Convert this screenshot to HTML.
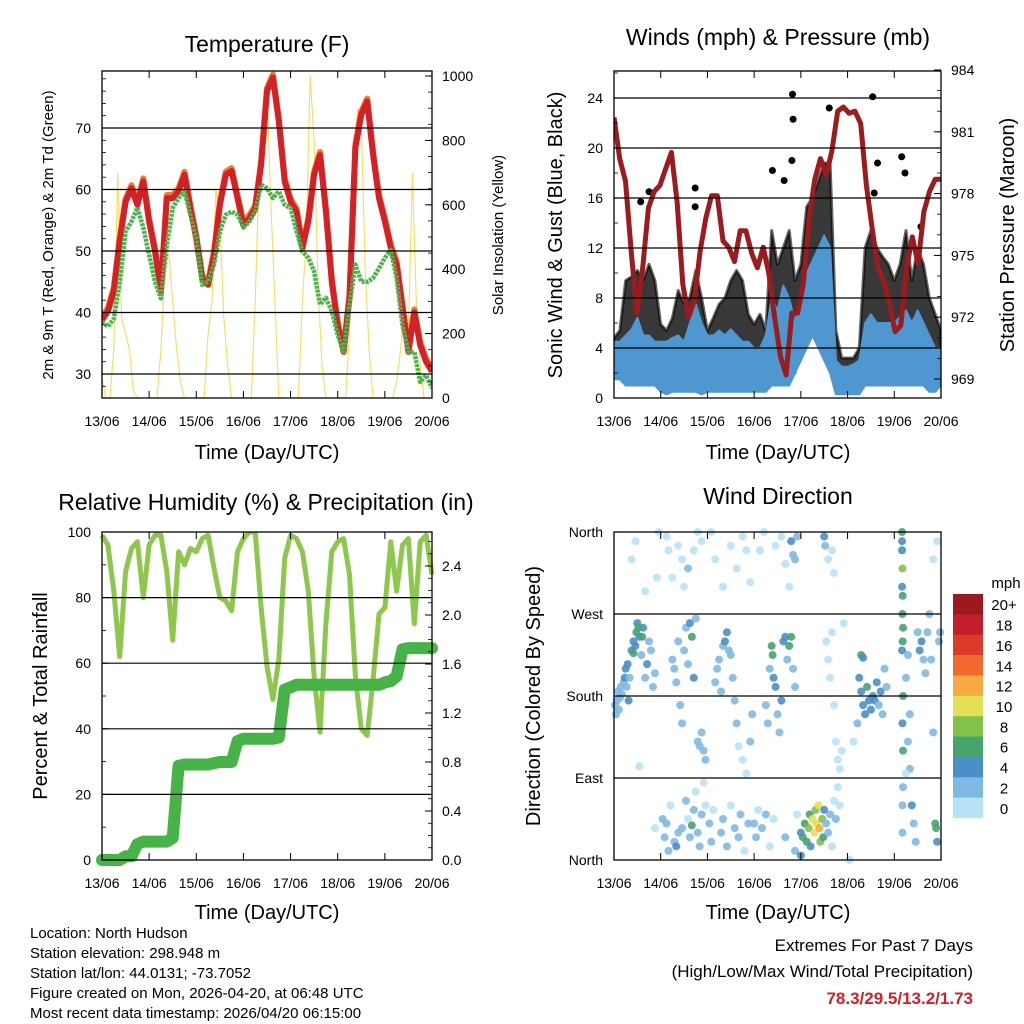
<!DOCTYPE html>
<html><head><meta charset="utf-8"><style>
html,body{margin:0;padding:0;background:#fff;}
svg{display:block;font-family:"Liberation Sans",Arial,sans-serif;}
</style></head><body>
<svg id="fig" width="1024" height="1024" viewBox="0 0 1024 1024" xmlns="http://www.w3.org/2000/svg">
<rect width="1024" height="1024" fill="#fff"/>
<g id="layer"></g>
<text x="267" y="52" font-size="23" text-anchor="middle">Temperature (F)</text>
<text x="778" y="45" font-size="23" text-anchor="middle">Winds (mph) &amp; Pressure (mb)</text>
<text x="266" y="510" font-size="23" text-anchor="middle">Relative Humidity (%) &amp; Precipitation (in)</text>
<text x="778" y="504" font-size="23" text-anchor="middle">Wind Direction</text>
<text x="267" y="459" font-size="20" text-anchor="middle">Time (Day/UTC)</text>
<text x="778" y="459" font-size="20" text-anchor="middle">Time (Day/UTC)</text>
<text x="267" y="919" font-size="20" text-anchor="middle">Time (Day/UTC)</text>
<text x="778" y="919" font-size="20" text-anchor="middle">Time (Day/UTC)</text>
<text transform="translate(53,235) rotate(-90)" font-size="15" text-anchor="middle">2m &amp; 9m T (Red, Orange) &amp; 2m Td (Green)</text>
<text transform="translate(503,235) rotate(-90)" font-size="15" text-anchor="middle">Solar Insolation (Yellow)</text>
<text transform="translate(562,235) rotate(-90)" font-size="20" text-anchor="middle">Sonic Wind &amp; Gust (Blue, Black)</text>
<text transform="translate(1014,235) rotate(-90)" font-size="20" text-anchor="middle">Station Pressure (Maroon)</text>
<text transform="translate(47,696) rotate(-90)" font-size="20" text-anchor="middle">Percent &amp; Total Rainfall</text>
<text transform="translate(540,696) rotate(-90)" font-size="20" text-anchor="middle">Direction (Colored By Speed)</text>
<g font-size="15">
<text x="30" y="938">Location: North Hudson</text>
<text x="30" y="958">Station elevation: 298.948 m</text>
<text x="30" y="978">Station lat/lon: 44.0131; -73.7052</text>
<text x="30" y="998">Figure created on Mon, 2026-04-20, at 06:48 UTC</text>
<text x="30" y="1018">Most recent data timestamp: 2026/04/20 06:15:00</text>
</g>
<g text-anchor="end">
<text x="973" y="951" font-size="17">Extremes For Past 7 Days</text>
<text x="973" y="977" font-size="17">(High/Low/Max Wind/Total Precipitation)</text>
<text x="973" y="1004" font-size="17" font-weight="bold" fill="#d22027">78.3/29.5/13.2/1.73</text>
</g>
</svg>
<script>
const dayLabels = ["13/06","14/06","15/06","16/06","17/06","18/06","19/06","20/06"];
const tempRed = [38.8,40.2,43.5,51.6,58,60.2,57.5,61.3, 54.8,49.9,43.5,58.6,58.6,59.7,62.4,56.9, 52,45.5,44.5,49.4,57.5,62.4,63,58.6, 54.2,55.3,56.9,64,76,78.2,71.1,61.3, 58,56.4,50.5,54.8,62.4,65.6,56.4,45, 37.9,33.6,42.4,66.8,72.2,74.3,65.6,58.6, 54.8,50.5,47.8,40.7,33.6,40,34.7,32,30.4];
const dewGreen = [38.5,37.7,39,45,53.2,54.8,57,53.8, 49.4,45,42.3,51,57,58.6,59.7,55.9, 52,44.5,45,47.8,53.2,55.9,56.4,55.9, 53.8,54.8,56.4,60.8,60.2,58.6,59.7,57.5, 57,53.2,49.9,48.9,46.7,41.3,42.4,40.2, 36.4,33.6,41.3,47.8,45,45,45.6,47.2, 48.9,50.2,45.6,37.9,33.6,33.6,28.7,29.8,27.7];
const solar = [60,0,0,150,700,250,200,150,20,0,0,0, 0,0,0,150,400,450,300,150,50,0,0,0, 0,0,0,200,300,650,550,250,100,0,0,0, 0,0,0,300,700,900,950,600,300,0,0,0, 0,0,0,300,500,1000,800,350,100,0,0,0, 0,0,0,200,700,900,850,400,150,0,0,0, 0,0,0,50,150,300,200,700,300,100,0,0,0];
const pressure = [981.7,979.7,978.6,975.2,972.2,974.4,977.3,978.1,978.4,979.2,980,977.6,973.6,972,972.8,975.2,976.8,977.9,977.9,975.7,975.4,974.7,976.2,976.2,975.1,974.4,975.4,974.1,972,970.1,969.2,972.2,972.2,973.6,976.8,978.7,979.7,978.9,980.1,982,982.2,981.9,982,981.4,978.4,976.3,974.4,973.8,972.7,971.3,971.6,974.4,975.9,974.6,977.1,978.1,978.7,978.7];
const gustHigh = [4.8,5.4,9.4,9.7,10.2,9.4,10.7,9.4, 5.9,5.4,6.4,8.6,7.5,8,10.2,8, 5.4,6.4,7.5,8,9.4,10.2,9.4,6.7, 5.9,6.7,5.4,13.4,10.7,12,13.4,9.4, 10.7,15.3,16,17.4,18.8,18.8,5.4,3.2, 3.2,3.2,4,12,13.4,12,11.3,10.7, 9.4,10.7,13.4,9.4,12,10.7,8,6.7,5.4];
const gustLow = [3,3,4,4,4,4,3.5,3, 2,2,2,2.5,3,3,3,2, 2,2,2.5,3,3,3,2.5,2, 2,2,2,3,3,3,3,2, 4,5,6,7,7,6,2,1.5, 1.5,1.5,2,3,4,4,4,4, 3,3,4,3,3,3,3,2,2];
const windHigh = [4.5,4.5,5,5.5,6.4,5,5,4.5, 4.5,4.5,4.8,5,4.5,6,7.5,6, 5,5,5.4,5,5.5,5,4.5,4.5, 4,4,5,8,7,9,8,6, 8,10,11,12,13,12,3,2.5, 2.5,2.7,3,6,6.7,6,6,6, 6,6.5,7,6,7,6,5,4,4];
const windLow = [1.5,1.5,1,1,1,1,1,1, 0.5,0.3,0.5,0.5,0.5,0.5,0.5,0.3, 0.5,0.5,0.5,0.5,0.5,0.5,0.5,0.5, 0.5,0.5,0.5,1,1,1,1,2, 3,4,5,4,3,2,0.3,0.3, 0.3,0.3,0.3,1,1,1,1,1, 1,1,1,1,1,1,0.5,0.5,1];
const gustOutlierHours = [91.7,92,91.4,110.6,132.9,147.8,41.7,41.7,13.7,18,81.4,87.4,135.4,149.5,133.7,157.7];
const gustOutlierValues = [24.3,22.3,19,23.2,24.1,19.3,16.8,15.3,15.7,16.5,18.2,17.4,18.8,18,16.4,13.7];
const rh = [99,96,82,62,88,95,97,80, 96,99,99,88,67,94,90,95, 94,98,99,89,80,79,76,94, 98,100,100,77,59,49,61,92, 99,98,94,82,56,39,72,94, 97,98,87,56,40,38,55,75, 77,97,82,96,98,72,97,99,87];
const precip = [0,0,0,0,0.03,0.03,0.13,0.15, 0.15,0.15,0.15,0.15,0.18,0.77,0.78,0.78, 0.78,0.78,0.78,0.79,0.8,0.8,0.8,0.97, 0.99,0.99,0.99,0.99,0.99,0.99,1.0,1.39, 1.41,1.43,1.43,1.43,1.43,1.43,1.43,1.43, 1.43,1.43,1.43,1.43,1.43,1.43,1.43,1.43, 1.45,1.46,1.5,1.72,1.73,1.73,1.73,1.73,1.73];
const dirHours = [0.5,1,1.5,2,2.5,3,3.5,4,5,5.5,6,6.5,7,7.5,8,9,10,11,11.5,12,13,14,15,16,17,18,19,20,21,22,23,12.5,14.5,10,11,9,16,13,21,
25,26,27,28,29,31,32,33,35,37,38,39,40,41,42,43,44,45,46,47,27,28,30,33,35,36,38,41,43,45,30,31,32,33,34,35,36,37,38,39,40,41,42,43,44,45,46,47,
49,50,51,55,56,58,60,62,64,65,67,69,52,53,54,55,56,57,58,59,60,61,62,63,64,66,68,70,71,50,52,56,60,63,66,68,70,
72,73,74,76,78,80,82,88,93,78,79,80,81,81.5,82,83,84,85,86,87,88,89,90,91,92,93,75,77,83,86,88,90,91,92,93,94,
96,97,98,99,100,100.5,101,102,103,103.5,104,105,105.5,106,107,107.5,108,109,110,111,112,113,114,115,116,96,94,108,108.5,110,112,113,109,110,112,111,113,114,115,116,117,118,
121,123,125,126,127,128,129,130,131,132,133,134,135,136,137,138,139,140,127,128,
148,148,148,148.2,148,148.3,148.2,148.5,148.3,148,148.5,148.2,148.5,148.5,148.2,148.2,150,151,151,152,152,153,154,155,156,157,158,159,160,161,162,163,164,165,165.5,166,167,167.5,150,164,166];
const dirDegrees = [170,160,175,185,165,178,190,182,195,200,210,190,215,175,200,230,240,235,250,260,245,225,255,200,215,240,230,190,205,310,360,255,245,227,350,330,295,103,35,
45,25,40,10,60,20,15,30,35,65,45,25,38,55,75,30,15,50,85,60,355,340,310,345,330,300,320,340,360,350,220,210,195,240,170,150,230,255,215,260,245,200,265,130,125,140,120,110,
40,20,55,30,45,15,60,35,25,50,10,40,195,210,220,185,235,240,250,230,225,200,175,150,125,110,95,130,160,360,330,300,345,320,355,340,305,
40,25,55,35,50,15,45,25,10,170,150,210,235,225,200,190,160,140,175,240,245,220,235,245,210,190,340,360,345,355,325,300,350,335,330,355,
30,25,40,20,35,50,15,45,30,55,40,60,35,20,45,25,55,40,30,50,15,65,45,80,60,5,50,355,345,330,340,315,240,220,250,200,170,130,110,100,120,260,
0,130,150,200,185,170,160,190,175,165,180,175,195,170,185,160,210,190,225,222,
360,350,340,320,300,290,270,255,240,230,180,150,120,80,60,30,200,225,130,100,160,60,40,20,250,230,240,220,205,250,270,220,140,40,35,20,240,250,95,330,350];
const dirSpeeds = [2,2,2,3,2,3,3,2,3,4,4,3,4,4,3,4,4,5,6,4,4,3,4,3,4,3,3,2,2,1,1,6,6,6,1,1,1,1,1,
2,3,2,2,1,3,4,2,3,2,1,3,6,2,1,2,3,2,1,1,1,1,1,1,1,1,2,1,1,1,3,2,2,3,2,2,2,3,3,4,6,4,3,3,2,3,2,2,
2,2,1,2,3,2,1,2,3,2,1,2,3,3,3,3,3,4,4,3,3,2,2,2,1,1,1,2,2,1,1,1,1,1,1,1,1,
2,2,1,2,2,1,1,2,3,2,2,3,6,6,4,4,3,3,4,4,5,3,6,6,3,2,1,1,1,1,1,1,4,2,3,2,
5,6,6,7,8,6,5,10,10,9,11,10,12,8,9,6,4,3,2,2,1,1,2,1,1,4,0,4,3,1,1,1,1,1,1,0,0,1,1,1,1,1,
1,1,2,4,5,4,4,6,5,4,4,5,4,3,4,3,2,3,6,5,
6,4,4,8,4,6,6,7,6,4,6,4,6,3,3,3,2,3,2,3,2,4,3,3,3,4,5,3,3,3,2,2,2,6,6,4,3,3,1,1,1];
const speedBins = ["0","2","4","6","8","10","12","14","16","18","20+"];
const binColors = ["#b8e3f7","#7fb9e3","#4a8fc7","#47a46f","#82c24b","#e4e055","#f7a943","#ef6a2c","#dd3a2b","#c21f2a","#9b1a1e"];

const NS="http://www.w3.org/2000/svg";
const layer=document.getElementById('layer');
function mk(tag,attrs,parent){const e=document.createElementNS(NS,tag);for(const k in attrs)e.setAttribute(k,attrs[k]);(parent||layer).appendChild(e);return e;}
const P1={x0:102,x1:432,y0:71,y1:398}, P2={x0:614,x1:941,y0:71,y1:398}, P3={x0:102,x1:432,y0:532,y1:860}, P4={x0:614,x1:941,y0:532,y1:860};
function xH(p,h){return p.x0+(p.x1-p.x0)*h/168;}
function xIdx(p,i,n){return xH(p,168*i/(n-1));}
const yT=v=>374-(v-30)*6.15, yS=v=>398-v*0.322, yW=v=>398-v*12.5, yP=v=>379-(v-969)*20.6, yR=v=>860-v*3.28, yPr=v=>860-v*122.5, yD=d=>860-d*0.911;
function pts(p,arr,yf){return arr.map((v,i)=>xIdx(p,i,arr.length).toFixed(1)+','+yf(v).toFixed(1)).join(' ');}

function frame(p,name,leftTicks,yl,leftLabels,grid,rightTicks,yr,rightLabels,minorL,minorR){
  const g=mk('g',{});
  
  
  grid.forEach(v=>{const l=mk('line',{x1:p.x0,x2:p.x1,y1:yl(v),y2:yl(v),stroke:'#000','stroke-width':1.2},g);
    
    });
  leftTicks.forEach((v,i)=>{mk('line',{x1:p.x0,x2:p.x0+7,y1:yl(v),y2:yl(v),stroke:'#000'},g);
    const t=mk('text',{x:p.x0-11,y:yl(v)+5,'font-size':14,'text-anchor':'end'},g);t.textContent=leftLabels[i];
    
    });
  (minorL||[]).forEach(v=>mk('line',{x1:p.x0,x2:p.x0+4,y1:yl(v),y2:yl(v),stroke:'#000','stroke-width':0.8},g));
  if(rightTicks)rightTicks.forEach((v,i)=>{mk('line',{x1:p.x1-7,x2:p.x1,y1:yr(v),y2:yr(v),stroke:'#000'},g);
    const t=mk('text',{x:p.x1+10,y:yr(v)+5,'font-size':14},g);t.textContent=rightLabels[i];
    
    });
  (minorR||[]).forEach(v=>mk('line',{x1:p.x1-4,x2:p.x1,y1:yr(v),y2:yr(v),stroke:'#000','stroke-width':0.8},g));
  dayLabels.forEach((d,i)=>{const x=xH(p,i*24);
    mk('line',{x1:x,x2:x,y1:p.y1,y2:p.y1-7,stroke:'#000'},g);
    mk('line',{x1:x,x2:x,y1:p.y0,y2:p.y0+7,stroke:'#000'},g);
    const t=mk('text',{x:x,y:p.y1+28,'font-size':14,'text-anchor':'middle'},g);t.textContent=d;
    
    });
  mk('rect',{x:p.x0,y:p.y0,width:p.x1-p.x0,height:p.y1-p.y0,fill:'none',stroke:'#000','stroke-width':1.3},g);
}
function rng(a,b,s){const r=[];for(let v=a;v<=b+1e-9;v+=s)r.push(+v.toFixed(2));return r;}

// Panel 1
const clip1=mk('clipPath',{id:'c1'});mk('rect',{x:P1.x0,y:P1.y0,width:P1.x1-P1.x0,height:P1.y1-P1.y0},clip1);
const g1=mk('g',{'clip-path':'url(#c1)'});


let e=mk('polyline',{points:pts(P1,solar,yS),fill:'none',stroke:'#f9dc5c','stroke-width':1.1},g1);


e=mk('polyline',{points:pts(P1,tempRed,v=>yT(v+0.5)),fill:'none',stroke:'#f07c2c','stroke-width':6,'stroke-linejoin':'round'},g1);


e=mk('polyline',{points:pts(P1,tempRed,yT),fill:'none',stroke:'#d42027','stroke-width':6,'stroke-linejoin':'round'},g1);


e=mk('polyline',{points:pts(P1,dewGreen,yT),fill:'none',stroke:'#4ab548','stroke-width':4.5,'stroke-dasharray':'3 1','stroke-linejoin':'round'},g1);


frame(P1,'temperature',rng(30,70,10),yT,['30','40','50','60','70'],rng(30,70,10),rng(0,1000,200),yS,['0','200','400','600','800','1000'],rng(28,78,2),rng(0,1000,50));

// Panel 2
const clip2=mk('clipPath',{id:'c2'});mk('rect',{x:P2.x0,y:P2.y0,width:P2.x1-P2.x0,height:P2.y1-P2.y0},clip2);
const g2=mk('g',{'clip-path':'url(#c2)'});


let band=pts(P2,gustHigh,yW)+' '+gustLow.map((v,i)=>xIdx(P2,i,gustLow.length).toFixed(1)+','+yW(v).toFixed(1)).reverse().join(' ');
e=mk('polygon',{points:band,fill:'#000','fill-opacity':0.78,stroke:'#000','stroke-width':3,'stroke-linejoin':'round','stroke-opacity':0.6},g2);


gustOutlierHours.forEach((h,i)=>{const c=mk('circle',{cx:xH(P2,h),cy:yW(gustOutlierValues[i]),r:3.5,fill:'#000'},g2);
  
  });
band=pts(P2,windHigh,yW)+' '+windLow.map((v,i)=>xIdx(P2,i,windLow.length).toFixed(1)+','+yW(v).toFixed(1)).reverse().join(' ');
e=mk('polygon',{points:band,fill:'#4e97d1',stroke:'#4e97d1','stroke-width':2,'stroke-linejoin':'round'},g2);


e=mk('polyline',{points:pts(P2,pressure,yP),fill:'none',stroke:'#9b1b1e','stroke-width':5,'stroke-linejoin':'round'},g2);


frame(P2,'winds',rng(0,24,4),yW,['0','4','8','12','16','20','24'],rng(4,24,4),rng(969,984,3),yP,['969','972','975','978','981','984'],rng(0,26,2),rng(969,984,1));

// Panel 3
const clip3=mk('clipPath',{id:'c3'});mk('rect',{x:P3.x0-6,y:P3.y0,width:P3.x1-P3.x0+12,height:P3.y1-P3.y0+6},clip3);
const g3=mk('g',{'clip-path':'url(#c3)'});


e=mk('polyline',{points:pts(P3,rh,yR),fill:'none',stroke:'#8dc74c','stroke-width':5,'stroke-linejoin':'round'},g3);


e=mk('polyline',{points:pts(P3,precip,yPr),fill:'none',stroke:'#46b347','stroke-width':12,'stroke-linejoin':'round','stroke-linecap':'round'},g3);


frame(P3,'humidity',rng(0,100,20),yR,['0','20','40','60','80','100'],rng(20,80,20),rng(0,2.4,0.4),yPr,['0.0','0.4','0.8','1.2','1.6','2.0','2.4'],rng(0,100,10),rng(0,2.6,0.1));

// Panel 4
const g4=mk('g',{});


dirHours.forEach((h,i)=>{const s=dirSpeeds[i];const b=Math.min(10,Math.floor(s/2));
  const c=mk('circle',{cx:xH(P4,h),cy:yD(dirDegrees[i]),r:4,fill:binColors[b],'fill-opacity':0.9},g4);
  
  });
frame(P4,'wind-direction',[0,90,180,270,360],yD,['North','East','South','West','North'],[90,180,270],null,null,null,null,null);

const cb=mk('g',{});


const cbTop=594, cbH=224/11;
let t=mk('text',{x:1006,y:588,'font-size':15,'text-anchor':'middle'},cb);t.textContent='mph';
speedBins.forEach((lab,i)=>{const k=10-i;const y=cbTop+i*cbH;
  const r=mk('rect',{x:953,y:y,width:30,height:cbH+0.3,fill:binColors[k]},cb);
  
  
  const tx=mk('text',{x:1004,y:y+cbH/2+6,'font-size':15,'text-anchor':'middle'},cb);tx.textContent=speedBins[k];
  
  });
</script>
</body></html>
